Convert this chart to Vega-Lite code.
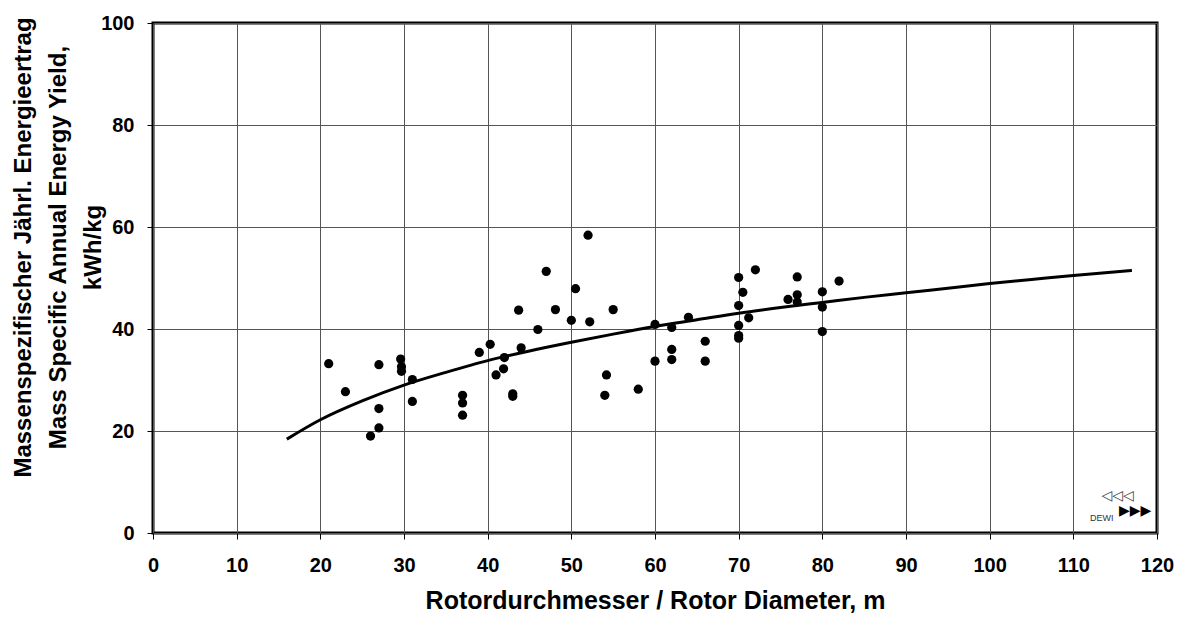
{
  "$schema": "https://vega.github.io/schema/vega-lite/v6.json",
  "width": 1004,
  "height": 510,
  "autosize": {"type": "none"},
  "padding": {"left": 153, "top": 23, "right": 29, "bottom": 84},
  "background": "white",
  "config": {
    "font": "Liberation Sans",
    "view": {"stroke": "black", "strokeWidth": 3},
    "axis": {
      "labelFont": "Liberation Sans",
      "labelFontWeight": "bold",
      "labelFontSize": 20,
      "labelColor": "black",
      "labelFlush": false,
      "titleFont": "Liberation Sans",
      "titleFontWeight": "bold",
      "titleColor": "black",
      "domain": false,
      "tickColor": "black",
      "tickSize": 6,
      "tickWidth": 1,
      "gridColor": "#555555",
      "gridWidth": 1,
      "gridOpacity": 1
    }
  },
  "datasets": {
    "points": [
      {"d": 21.0, "e": 33.2}, {"d": 23.0, "e": 27.7}, {"d": 26.0, "e": 19.0},
      {"d": 27.0, "e": 33.0}, {"d": 27.0, "e": 24.4}, {"d": 27.0, "e": 20.6},
      {"d": 29.6, "e": 34.1}, {"d": 29.7, "e": 32.6}, {"d": 29.7, "e": 31.7},
      {"d": 31.0, "e": 30.1}, {"d": 31.0, "e": 25.8},
      {"d": 37.0, "e": 27.0}, {"d": 37.0, "e": 25.5}, {"d": 37.0, "e": 23.1},
      {"d": 39.0, "e": 35.4}, {"d": 40.3, "e": 37.0}, {"d": 41.0, "e": 31.0},
      {"d": 41.9, "e": 32.2}, {"d": 42.0, "e": 34.4}, {"d": 43.0, "e": 27.3},
      {"d": 43.0, "e": 26.8}, {"d": 43.7, "e": 43.7}, {"d": 44.0, "e": 36.3},
      {"d": 46.0, "e": 39.9}, {"d": 47.0, "e": 51.3}, {"d": 48.1, "e": 43.8},
      {"d": 50.0, "e": 41.7}, {"d": 50.5, "e": 47.9}, {"d": 52.0, "e": 58.4},
      {"d": 52.2, "e": 41.4}, {"d": 54.0, "e": 27.0}, {"d": 54.2, "e": 31.0},
      {"d": 55.0, "e": 43.8}, {"d": 58.0, "e": 28.2}, {"d": 60.0, "e": 40.9},
      {"d": 60.0, "e": 33.7}, {"d": 62.0, "e": 40.3}, {"d": 62.0, "e": 36.0},
      {"d": 62.0, "e": 34.0}, {"d": 64.0, "e": 42.3}, {"d": 66.0, "e": 37.6},
      {"d": 66.0, "e": 33.7}, {"d": 70.0, "e": 50.1}, {"d": 70.0, "e": 44.6},
      {"d": 70.0, "e": 40.7}, {"d": 70.0, "e": 38.7}, {"d": 70.0, "e": 38.2},
      {"d": 70.5, "e": 47.2}, {"d": 71.2, "e": 42.2}, {"d": 72.0, "e": 51.6},
      {"d": 75.9, "e": 45.8}, {"d": 77.0, "e": 50.2}, {"d": 77.0, "e": 46.7},
      {"d": 77.0, "e": 45.3}, {"d": 80.0, "e": 47.3}, {"d": 80.0, "e": 44.3},
      {"d": 80.0, "e": 39.5}, {"d": 82.0, "e": 49.4}
    ],
    "curve": [
      {"d": 16, "e": 18.4}, {"d": 20, "e": 22.2}, {"d": 25, "e": 25.9},
      {"d": 30, "e": 29.0}, {"d": 35, "e": 31.5}, {"d": 40, "e": 33.8},
      {"d": 45, "e": 35.7}, {"d": 50, "e": 37.4}, {"d": 55, "e": 39.0},
      {"d": 60, "e": 40.5}, {"d": 65, "e": 41.8}, {"d": 70, "e": 43.1},
      {"d": 75, "e": 44.2}, {"d": 80, "e": 45.2}, {"d": 85, "e": 46.2},
      {"d": 90, "e": 47.1}, {"d": 95, "e": 48.0}, {"d": 100, "e": 48.9},
      {"d": 105, "e": 49.7}, {"d": 110, "e": 50.5}, {"d": 117, "e": 51.5}
    ],
    "logo": [
      {"d": 115.3, "e": 7.2, "t": "◁◁◁", "c": "outline"},
      {"d": 117.4, "e": 4.4, "t": "▶▶▶", "c": "solid"},
      {"d": 113.4, "e": 2.9, "t": "DEWI", "c": "word"}
    ]
  },
  "layer": [
    {
      "data": {"name": "points"},
      "mark": {"type": "circle", "color": "black", "opacity": 1, "size": 85},
      "encoding": {
        "x": {
          "field": "d", "type": "quantitative",
          "scale": {"domain": [0, 120], "nice": false, "zero": false},
          "axis": {
            "values": [0, 10, 20, 30, 40, 50, 60, 70, 80, 90, 100, 110, 120],
            "title": "Rotordurchmesser / Rotor Diameter, m",
            "titleFontSize": 25,
            "labelPadding": 16,
            "titlePadding": 13,
            "grid": true
          }
        },
        "y": {
          "field": "e", "type": "quantitative",
          "scale": {"domain": [0, 100], "nice": false},
          "axis": {
            "values": [0, 20, 40, 60, 80, 100],
            "title": ["Massenspezifischer Jährl. Energieertrag", "Mass Specific Annual Energy Yield,", "kWh/kg"],
            "titleFontSize": 24,
            "titleLineHeight": 35,
            "titleAngle": -90,
            "titleAlign": "center",
            "titleBaseline": "middle",
            "titleX": -130,
            "titleY": 224,
            "labelPadding": 13,
            "grid": true
          }
        }
      }
    },
    {
      "data": {"name": "curve"},
      "mark": {"type": "line", "color": "black", "strokeWidth": 3, "interpolate": "monotone"},
      "encoding": {
        "x": {"field": "d", "type": "quantitative"},
        "y": {"field": "e", "type": "quantitative"}
      }
    },
    {
      "data": {"name": "logo"},
      "transform": [{"filter": "datum.c == 'outline'"}],
      "mark": {"type": "text", "font": "DejaVu Sans", "fontSize": 14, "color": "#444444", "align": "center", "baseline": "middle"},
      "encoding": {
        "x": {"field": "d", "type": "quantitative"},
        "y": {"field": "e", "type": "quantitative"},
        "text": {"field": "t"}
      }
    },
    {
      "data": {"name": "logo"},
      "transform": [{"filter": "datum.c == 'solid'"}],
      "mark": {"type": "text", "font": "DejaVu Sans", "fontSize": 14, "color": "black", "align": "center", "baseline": "middle"},
      "encoding": {
        "x": {"field": "d", "type": "quantitative"},
        "y": {"field": "e", "type": "quantitative"},
        "text": {"field": "t"}
      }
    },
    {
      "data": {"name": "logo"},
      "transform": [{"filter": "datum.c == 'word'"}],
      "mark": {"type": "text", "font": "Liberation Sans", "fontSize": 9, "color": "#333333", "align": "center", "baseline": "middle"},
      "encoding": {
        "x": {"field": "d", "type": "quantitative"},
        "y": {"field": "e", "type": "quantitative"},
        "text": {"field": "t"}
      }
    }
  ]
}
